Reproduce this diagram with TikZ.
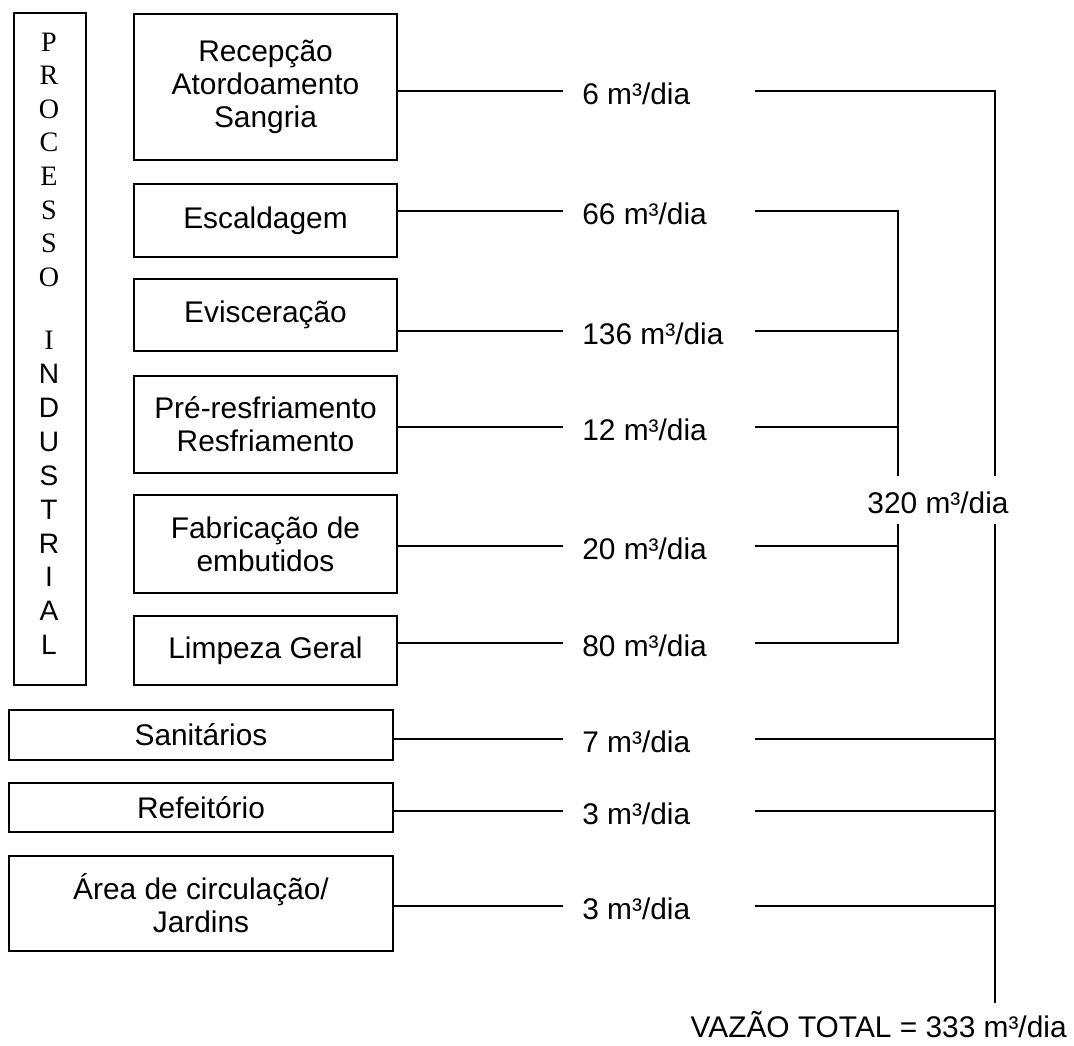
\documentclass[tikz,border=0pt]{standalone}
\usepackage{fontspec}
\setmainfont{Liberation Sans}
\newfontfamily\serfont{Liberation Serif}
\usepackage{tikz}
\newcommand\diagfont{\fontsize{17}{18.7}\selectfont}

\begin{document}
\begin{tikzpicture}[x=0.02cm, y=-0.02cm,
    box/.style={draw, line width=1pt, align=center, inner sep=0pt, font=\diagfont},
    pbox/.style={box, minimum width=5.26cm},
    obox/.style={box, minimum width=7.68cm},
    rate/.style={anchor=west, inner xsep=0.38cm, inner ysep=0pt,
        text height=0.52cm, text depth=0pt, font=\diagfont},
    flow/.style={line width=0.8pt},
    serlet/.style={font=\serfont\fontsize{16}{16}\selectfont, inner sep=0pt},
    sanslet/.style={font=\fontsize{16}{16}\selectfont, inner sep=0pt}]
    \useasboundingbox (0,0) rectangle (1074,1045);

    % Side box
    \node[draw, line width=1pt, minimum width=1.44cm, minimum height=13.44cm] (proc) at (50,349) {};
    \foreach \c [count=\i] in {P,R,O,C,E,S,S,O}
        \node[serlet] (s\i) at (49,{42+33.6*(\i-1)}) {\c};
    \node[serlet] (i0) at (49,340) {I};
    \foreach \c [count=\i] in {N,D,U,S,T,R,I,A,L}
        \node[sanslet] (n\i) at (49,{340+33.9*\i}) {\c};

    % Process steps
    \node[pbox, minimum height=2.92cm] (recep) at (265.5,87) {Recepção\\Atordoamento\\Sangria};
    \node[pbox, minimum height=1.46cm] (escal) at (265.5,220.5) {Escaldagem};
    \node[pbox, minimum height=1.44cm] (evisc) at (265.5,315) {Evisceração};
    \node[pbox, minimum height=1.94cm] (pre) at (265.5,424.5) {Pré-resfriamento\\Resfriamento};
    \node[pbox, minimum height=1.96cm] (fabr) at (265.5,544) {Fabricação de\\embutidos};
    \node[pbox, minimum height=1.38cm] (limp) at (265.5,650.5) {Limpeza Geral};
    \node[obox, minimum height=1.00cm] (sanit) at (201,735) {Sanitários};
    \node[obox, minimum height=0.98cm] (refei) at (201,807.5) {Refeitório};
    \node[obox, minimum height=1.90cm] (area) at (201,903.5) {Área de circulação/\\Jardins};

    % Flow rates
    \node[rate] (q1) at (563,91) {6 m³/dia};
    \node[rate] (q2) at (563,211) {66 m³/dia};
    \node[rate] (q3) at (563,331) {136 m³/dia};
    \node[rate] (q4) at (563,427) {12 m³/dia};
    \node[rate] (q5) at (563,546) {20 m³/dia};
    \node[rate] (q6) at (563,643) {80 m³/dia};
    \node[rate] (q7) at (563,739) {7 m³/dia};
    \node[rate] (q8) at (563,811) {3 m³/dia};
    \node[rate] (q9) at (563,906) {3 m³/dia};

    % Sums
    \node[font=\diagfont, inner xsep=0pt, inner ysep=0.22cm, text height=0.52cm, text depth=0pt] (sub) at (938,500) {320 m³/dia};
    \node[font=\diagfont, anchor=base east, inner sep=0pt] (tot) at (1067,1037) {VAZÃO TOTAL = 333 m³/dia};

    \coordinate (rc) at (755,0);
    \coordinate (inr) at (898,0);
    \coordinate (outr) at (995,0);
    \coordinate (fim) at (995,1003);

    % Box to rate
    \foreach \b/\q in {recep/q1,escal/q2,evisc/q3,pre/q4,fabr/q5,limp/q6,sanit/q7,refei/q8,area/q9}
        \draw[flow] (\b.east |- \q.west) -- (\q.west);

    % Rate to collectors
    \draw[flow] (q2.west -| rc) -| (sub.north -| inr);
    \draw[flow] (q6.west -| rc) -| (sub.south -| inr);
    \foreach \q in {q3,q4,q5}
        \draw[flow] (\q.west -| rc) -- (\q.west -| inr);
    \draw[flow] (q1.west -| rc) -| (sub.north -| outr);
    \draw[flow] (sub.south -| outr) -- (fim);
    \foreach \q in {q7,q8,q9}
        \draw[flow] (\q.west -| rc) -- (\q.west -| outr);

\end{tikzpicture}
\end{document}
